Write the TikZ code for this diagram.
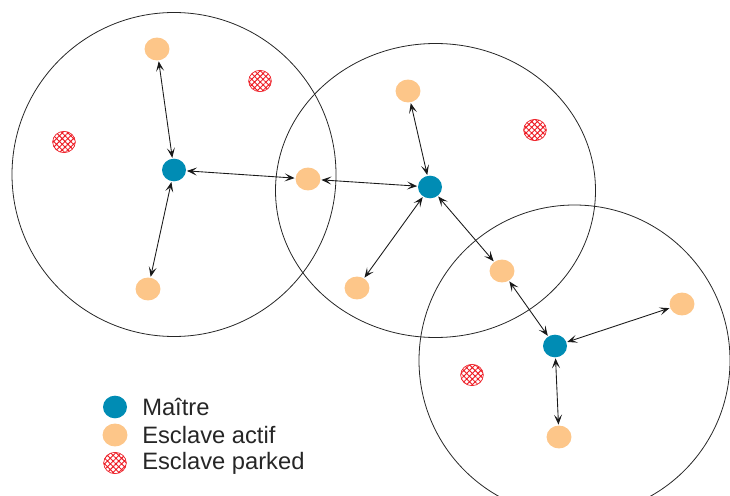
\documentclass[tikz,border=0pt]{standalone}
\usepackage{fontspec}
\setmainfont{Liberation Sans}
\usetikzlibrary{positioning, arrows.meta, shapes.geometric, patterns.meta}
\definecolor{maitreblue}{RGB}{0,140,180}
\definecolor{actiforange}{RGB}{253,198,137}
\definecolor{parkedred}{RGB}{237,28,36}
\tikzset{piconet/.style={draw=black!85, line width=0.6pt}}
\tikzset{maitre/.style={ellipse, fill=maitreblue, minimum width=18pt, minimum height=17pt, inner sep=0pt}}
\tikzset{actif/.style={ellipse, fill=actiforange, minimum width=18.7pt, minimum height=17.2pt, inner sep=0pt}}
\tikzset{parked/.style={ellipse, draw=parkedred, line width=0.5pt, pattern={Hatch[angle=45, distance=3pt, line width=0.7pt]}, pattern color=parkedred, minimum width=17pt, minimum height=16pt, inner sep=0pt}}
\tikzset{arr/.style={draw=black!90, line width=0.65pt, {Stealth[length=7.5pt, width=6pt, inset=3.5pt]}-{Stealth[length=7.5pt, width=6pt, inset=3.5pt]}, shorten <=0.5pt, shorten >=0.5pt}}
\tikzset{legtext/.style={anchor=west, font=\fontsize{17.8}{20}\selectfont, text=black!85, inner sep=0pt}}

\begin{document}
\begin{tikzpicture}[x=0.75pt, y=-0.75pt]
				\useasboundingbox (0,0) rectangle (730,495);
				\begin{scope}
				\clip (0,0) rectangle (730,495);
				\draw[piconet] (174,174.5) circle (162);
				\draw[piconet] (435.5,190.5) ellipse [x radius=160, y radius=147];
				\draw[piconet] (574.5,360.5) circle (155.5);
				\end{scope}
				%
				% premier piconet
				\node[maitre] (m1) at (174,170) {};
				\node[actif] (a1) at (157,49) {};
				\node[actif] (a2) at (148,289) {};
				\node[actif] (pont1) at (308,179) {};
				\node[parked] (p1) at (260,81) {};
				\node[parked] (p2) at (64,142) {};
				% second piconet
				\node[maitre] (m2) at (430,187) {};
				\node[actif] (a3) at (408,91) {};
				\node[actif] (a4) at (357,288) {};
				\node[actif] (pont2) at (502,271) {};
				\node[parked] (p3) at (535,130) {};
				% troisieme piconet
				\node[maitre] (m3) at (555,346) {};
				\node[actif] (a5) at (682,304) {};
				\node[actif] (a6) at (559,437) {};
				\node[parked] (p4) at (472,375) {};
				%
				\draw[arr] (m1) -- (a1);
				\draw[arr] (m1) -- (a2);
				\draw[arr] (m1) -- (pont1);
				\draw[arr] (pont1) -- (m2);
				\draw[arr] (m2) -- (a3);
				\draw[arr] (m2) -- (a4);
				\draw[arr] (m2) -- (pont2);
				\draw[arr] (pont2) -- (m3);
				\draw[arr] (m3) -- (a5);
				\draw[arr] (m3) -- (a6);
				%
				% legende
				\node[maitre] (lm) at (115,407) {};
				\node[actif] (la) at (115,435) {};
				\node[parked] (lp) at (115,463) {};
				\node[legtext] (tm) at (142,407) {Maître};
				\node[legtext] (ta) at (142,435) {Esclave actif};
				\node[legtext] (tp) at (142,463) {Esclave parked};
\end{tikzpicture}
\end{document}
